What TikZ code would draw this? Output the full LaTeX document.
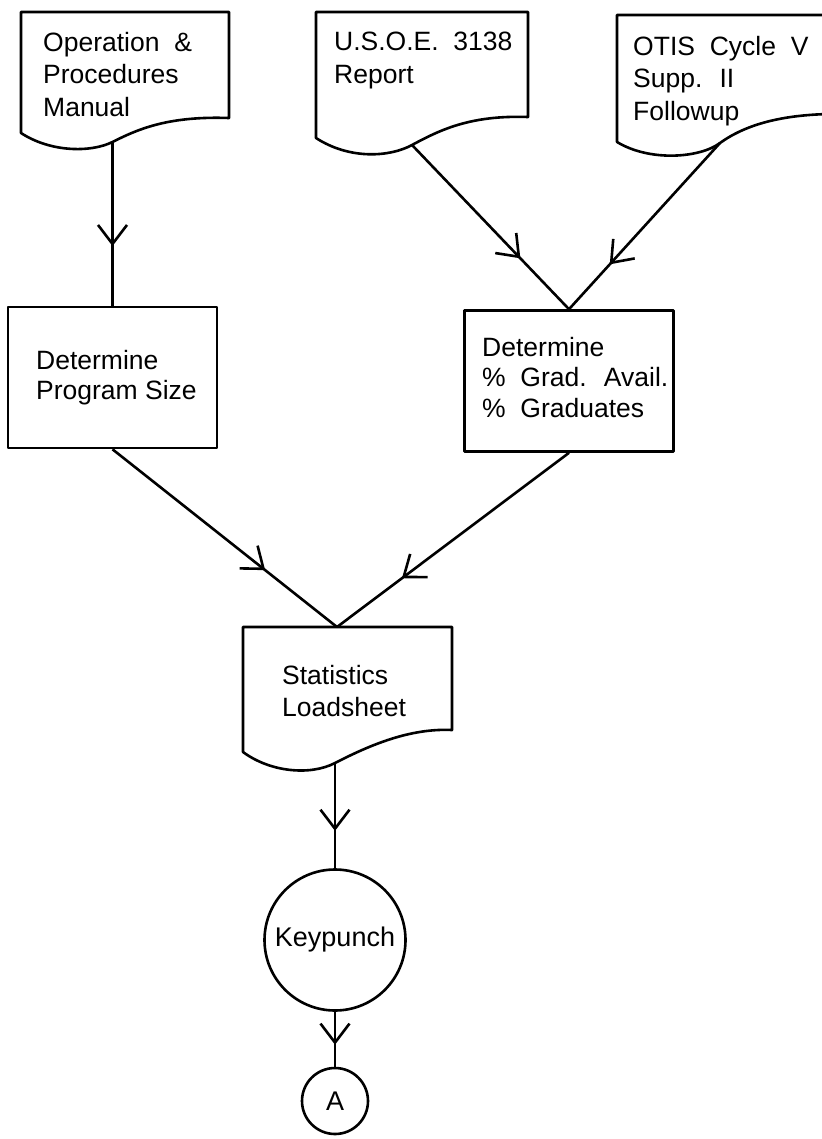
\documentclass[tikz,border=0pt]{standalone}
\usepackage{fontspec}
\setmainfont{Liberation Sans}
\usetikzlibrary{arrows.meta,decorations.markings}
\tikzset{
  outline/.style={draw=black, line width=2.6pt, line join=round},
  conn/.style={draw=black, line width=2.6pt},
  doctxt/.style={align=left, anchor=north west, inner sep=0pt, font=\fontsize{26.5}{32.5}\selectfont},
  boxtxt/.style={align=left, anchor=north west, inner sep=0pt, font=\fontsize{26.5}{30.5}\selectfont},
  procbox/.style={outline, minimum width=209pt, minimum height=141pt, inner sep=0pt},
  midarrow/.style={postaction={decorate}, decoration={markings,
     mark=at position #1 with {\arrow{Straight Barb[length=19pt,width=29pt,line width=2.6pt]}}}},
}
\begin{document}
\begin{tikzpicture}[x=1pt,y=-1pt]
\useasboundingbox (0,0) rectangle (821,1139);
% Document 1
\coordinate (d1out) at (112.5,142);
\draw[outline] (21,133) -- (21,12) -- (229,12) -- (229,118)
   .. controls (170,116) and (140,128) .. (d1out)
   .. controls (90,153) and (50,152) .. (21,133) -- cycle;
\node[doctxt] (t1) at (43,32) {Operation \ \&\\Procedures\\Manual};
% Document 2
\coordinate (d2out) at (412,145);
\draw[outline] (316,138) -- (316,12) -- (528,12) -- (528,117)
   .. controls (470,115) and (440,130) .. (d2out)
   .. controls (390,157) and (350,160) .. (316,138) -- cycle;
\node[doctxt] (t2) at (334,32) {U.S.O.E. \ 3138\\Report};
% Document 3 (cut off at right edge)
\coordinate (d3out) at (720,143);
\draw[outline] (830,15) -- (617,15) -- (617,142)
   .. controls (650,162) and (700,158) .. (d3out)
   .. controls (745,125) and (780,115) .. (830,114);
\node[doctxt] (t3) at (633,36) {OTIS \ Cycle \ V\\Supp. \ II\\Followup};
% Process boxes
\node[procbox] (b1) at (112.5,377.5) {};
\node[boxtxt] (bt1) at (36,350) {Determine\\Program Size};
\node[procbox] (b2) at (569,381) {};
\node[boxtxt] (bt2) at (482,337) {Determine\\\% \ Grad. \ Avail.\\\% \ Graduates};
% Statistics document
\coordinate (sout) at (335,763);
\coordinate (j2) at (337,627);
\draw[outline] (243,752) -- (243,627) -- (452,627) -- (452,730)
   .. controls (410,728) and (370,745) .. (sout)
   .. controls (310,776) and (270,772) .. (243,752) -- cycle;
\node[doctxt] (st) at (282,665) {Statistics\\Loadsheet};
% Circles
\node[outline, circle, minimum size=141pt, inner sep=0pt, font=\fontsize{27}{30}\selectfont] (kp) at (335,940) {Keypunch};
\node[outline, circle, minimum size=66pt, inner sep=0pt, font=\fontsize{27}{30}\selectfont] (A) at (335,1101) {A};
% connectors
\draw[conn, midarrow=0.636] (d1out) -- (b1.north);
\draw[conn, midarrow=0.69] (d2out) -- (b2.north);
\draw[conn, midarrow=0.73] (d3out) -- (b2.north);
\draw[conn, midarrow=0.68] (b1.south) -- (j2);
\draw[conn, midarrow=0.72] (b2.south) -- (j2);
\draw[conn, midarrow=0.645] (sout) -- (kp.north);
\draw[conn, midarrow=0.6] (kp.south) -- (A.north);
\end{tikzpicture}
\end{document}
